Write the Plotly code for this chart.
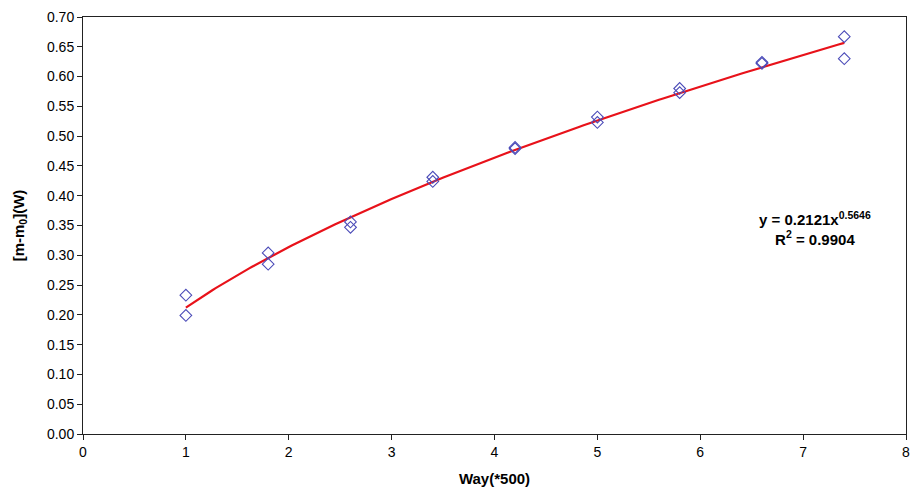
import numpy as np
import plotly.graph_objects as go

# Observed data (Way in units of 500, mass change in W)
way = [1.0, 1.0, 1.8, 1.8, 2.6, 2.6, 3.4, 3.4, 4.2, 4.2, 5.0, 5.0, 5.8, 5.8, 6.6, 6.6, 7.4, 7.4]
mass = [0.233, 0.199, 0.304, 0.285, 0.356, 0.347, 0.431, 0.424, 0.481, 0.479,
        0.532, 0.523, 0.580, 0.573, 0.624, 0.622, 0.667, 0.630]

# Power trendline coefficients shown on the chart
fit_a = 0.2121
fit_b = 0.5646
r_squared = 0.9904

x_fit = np.linspace(min(way), max(way), 200)
y_fit = fit_a * x_fit ** fit_b

fig = go.Figure()
fig.add_trace(go.Scatter(
    x=x_fit, y=y_fit, mode="lines",
    line=dict(color="#e8121a", width=2.2),
    hoverinfo="skip", showlegend=False,
))
fig.add_trace(go.Scatter(
    x=way, y=mass, mode="markers",
    marker=dict(symbol="diamond-open", size=9, color="#4b4bb8",
                line=dict(width=1.1, color="#4b4bb8")),
    showlegend=False,
))

font_family = "Liberation Sans, Arial, sans-serif"

fig.update_layout(
    width=912, height=492,
    margin=dict(l=83, r=2, t=17, b=58),
    paper_bgcolor="white", plot_bgcolor="white",
    font=dict(family=font_family, size=14, color="#000"),
    xaxis=dict(
        range=[0, 8], dtick=1, tick0=0,
        showgrid=False, zeroline=False,
        showline=True, linecolor="#222", linewidth=1, mirror=True,
        ticks="outside", ticklen=5, tickcolor="#222",
        ticklabeloverflow="allow",
        tickfont=dict(size=14, family=font_family, color="#000"),
        title=dict(text="<b>Way(*500)</b>", font=dict(size=15, family=font_family), standoff=14),
    ),
    yaxis=dict(
        range=[0, 0.70], dtick=0.05, tick0=0, tickformat=".2f",
        showgrid=False, zeroline=False,
        showline=True, linecolor="#222", linewidth=1, mirror=True,
        ticks="outside", ticklen=5, tickcolor="#222",
        tickfont=dict(size=14, family=font_family, color="#000"),
        title=dict(text="<b>[m-m<sub>0</sub>](W)</b>", font=dict(size=15, family=font_family), standoff=18),
    ),
)

fig.add_annotation(
    x=7.12, y=0.345, xref="x", yref="y",
    text=f"<b>y = {fit_a}x<sup>{fit_b}</sup></b><br><b>R<sup>2</sup> = {r_squared}</b>",
    showarrow=False, align="center",
    font=dict(size=15, family=font_family, color="#000"),
)

fig.write_html("out.html")
